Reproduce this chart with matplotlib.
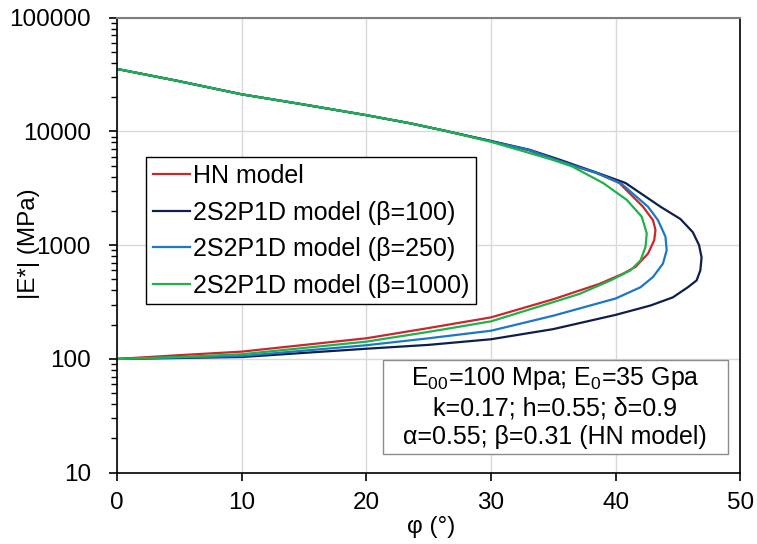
import numpy as np
import matplotlib
matplotlib.use("Agg")
import matplotlib.pyplot as plt
from matplotlib.ticker import LogLocator, FixedLocator, FuncFormatter, NullFormatter
from matplotlib.patches import Rectangle

plt.rcParams['font.family'] = ['Liberation Sans', 'DejaVu Sans']
plt.rcParams['mathtext.fontset'] = 'custom'
plt.rcParams['mathtext.rm'] = 'Liberation Sans'
plt.rcParams['mathtext.it'] = 'Liberation Sans'

# phase angle (deg) and norm of complex modulus (MPa)
phi_hn = [0, 4.8, 10, 14.9, 20, 23.5, 26.2, 30, 33.1, 35.0, 38.5, 40.3, 42.2, 43.0, 43.2, 43.1, 42.6, 41.6, 40.6,
          38.7, 35, 30, 25, 20, 10, 5, 0]
e_hn = [35400, 27900, 21200, 17300, 13900, 11800, 10200, 8200, 6800, 5650, 4300, 3520, 2180, 1660, 1360, 1107, 843, 645, 562,
        457, 335, 232, 187, 152, 116, 108, 100]

phi_b100 = [0, 4.8, 10, 14.9, 20, 23.5, 26.2, 30, 33.1, 35.5, 38.6, 40.8, 43.6, 45.2, 46.2, 46.7, 46.9, 46.8, 46.5, 45.8,
            44.6, 42.8, 40, 35, 30, 25, 20, 10, 5, 0]
e_b100 = [35400, 27900, 21200, 17300, 13900, 11800, 10200, 8250, 6900, 5650, 4300, 3520, 2180, 1700, 1300, 1000, 780, 600, 490, 427,
          348, 295, 244, 183, 149, 133, 123, 104, 102, 100]

phi_b250 = [0, 4.8, 10, 14.9, 20, 23.5, 26.2, 30, 33.1, 35.2, 38.5, 40.4, 42.6, 43.4, 44.0, 44.1, 43.8, 43.0, 42.0,
            40.0, 35, 30, 25, 20, 10, 5, 0]
e_b250 = [35400, 27900, 21200, 17300, 13900, 11800, 10200, 8200, 6850, 5650, 4300, 3520, 2180, 1660, 1190, 903, 689, 525, 427,
          340, 240, 177, 152, 132, 106, 103, 100]

phi_b1000 = [0, 4.8, 10, 14.9, 20, 23.5, 26.2, 30, 33.1, 34.9, 36.5, 39.0, 40.9, 42.1, 42.5, 42.4, 42.0, 41.2, 39.6,
             37.1, 35, 30, 25, 20, 10, 5, 0]
e_b1000 = [35400, 27900, 21200, 17300, 13900, 11800, 10200, 8100, 6460, 5650, 4930, 3520, 2500, 1780, 1270, 966, 736, 601, 490,
           373, 316, 214, 173, 142, 110, 104, 100]

labels = ["HN model", "2S2P1D model (β=100)", "2S2P1D model (β=250)", "2S2P1D model (β=1000)"]
colores = ["#c8282d", "#0f1f4b", "#1a78c6", "#1fb24b"]

fs = 17.5

fig = plt.figure(figsize=(7.57, 5.44), dpi=100)
ax = fig.add_axes([117.2 / 757, 1 - 472.7 / 544, 623 / 757, 455 / 544])

curvas = [(phi_hn, e_hn), (phi_b100, e_b100), (phi_b250, e_b250), (phi_b1000, e_b1000)]
for (x, y), lab, col in zip(curvas, labels, colores):
    ax.plot(x, y, color=col, lw=1.6, label=lab, solid_joinstyle='round')

ax.set_yscale('log')
ax.set_xlim(0, 50)
ax.set_ylim(10, 100000)
ax.set_xticks([0, 10, 20, 30, 40, 50])
ax.yaxis.set_major_locator(FixedLocator([10, 100, 1000, 10000, 100000]))
ax.yaxis.set_major_formatter(FuncFormatter(lambda v, p: f"{int(round(v))}"))
ax.yaxis.set_minor_locator(LogLocator(base=10, subs=np.arange(2, 10)))
ax.yaxis.set_minor_formatter(NullFormatter())

ax.grid(True, which='major', color='#d9d9d9', lw=1.0)
ax.set_axisbelow(True)
ax.tick_params(axis='both', which='major', direction='out', length=6, width=1.2,
               labelsize=fs, colors='black')
ax.tick_params(axis='y', which='major', pad=13)
ax.tick_params(axis='x', which='major', pad=8)
ax.tick_params(axis='y', which='minor', direction='out', length=4, width=1.0)
ax.tick_params(axis='x', which='minor', length=0)

for lado in ['left', 'bottom', 'right']:
    ax.spines[lado].set_color('black')
    ax.spines[lado].set_linewidth(1.2)
ax.spines['top'].set_color('#7f7f7f')
ax.spines['top'].set_linewidth(1.5)

ax.set_xlabel("φ (°)", fontsize=fs)
ax.set_ylabel("|E*| (MPa)", fontsize=fs)
ax.xaxis.set_label_coords(0.504, -0.095)
ax.yaxis.set_label_coords(-0.124, 0.504)

leg = ax.legend(loc='upper left', bbox_to_anchor=(0.046, 0.693), fontsize=18,
                frameon=True, fancybox=False, edgecolor='black', framealpha=1,
                handlelength=1.5, handletextpad=0.1, labelspacing=0.5,
                borderpad=0.27, borderaxespad=0)
leg.get_frame().set_linewidth(1.0)

caja = Rectangle((0.426, 0.041), 0.554, 0.207, transform=ax.transAxes,
                 facecolor='white', edgecolor='#8c8c8c', lw=1.0, zorder=5)
ax.add_patch(caja)
ax.text(0.703, 0.144,
        "E$_{00}$=100 Mpa; E$_0$=35 Gpa\nk=0.17; h=0.55; δ=0.9\nα=0.55; β=0.31 (HN model)",
        transform=ax.transAxes, ha='center', va='center', multialignment='center',
        fontsize=18, linespacing=1.22, zorder=6)

fig.savefig("out.png", dpi=100)
